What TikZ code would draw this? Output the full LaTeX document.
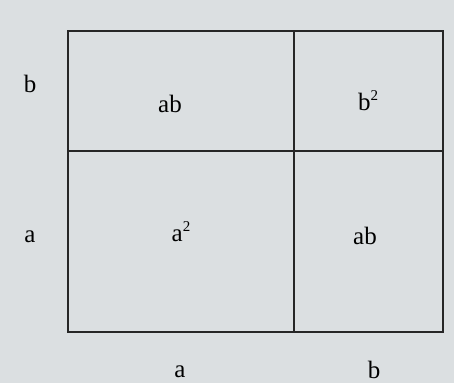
\documentclass[tikz,border=0pt]{standalone}
\usepackage{fontspec}
\setmainfont{Liberation Serif}
\begin{document}
\begin{tikzpicture}[x=1pt,y=-1pt,
  lbl/.style={font=\fontsize{25}{28}\selectfont, inner sep=0pt},
  edge/.style={line width=1.6pt, draw=black!85}]
\fill[fill={rgb,255:red,219;green,223;blue,225}] (0,0) rectangle (454,383);
\useasboundingbox (0,0) rectangle (454,383);
\coordinate (tl) at (68,31);
\coordinate (br) at (443,332);
\coordinate (vt) at (294,31);
\coordinate (vb) at (294,332);
\coordinate (hl) at (68,151);
\coordinate (hr) at (443,151);
\draw[edge] (tl) rectangle (br);
\draw[edge] (vt) -- (vb);
\draw[edge] (hl) -- (hr);
\node[lbl] (lb) at (30,84) {b};
\node[lbl] (la) at (30,237) {a};
\node[lbl] (ab1) at (170,104) {ab};
\node[lbl] (b2) at (368,101) {b\raisebox{0.4em}{\fontsize{15}{17}\selectfont 2}};
\node[lbl] (a2) at (181,232) {a\raisebox{0.4em}{\fontsize{15}{17}\selectfont 2}};
\node[lbl] (ab2) at (365,236) {ab};
\node[lbl] (ba) at (180,372) {a};
\node[lbl] (bb) at (374,370) {b};
\end{tikzpicture}
\end{document}
